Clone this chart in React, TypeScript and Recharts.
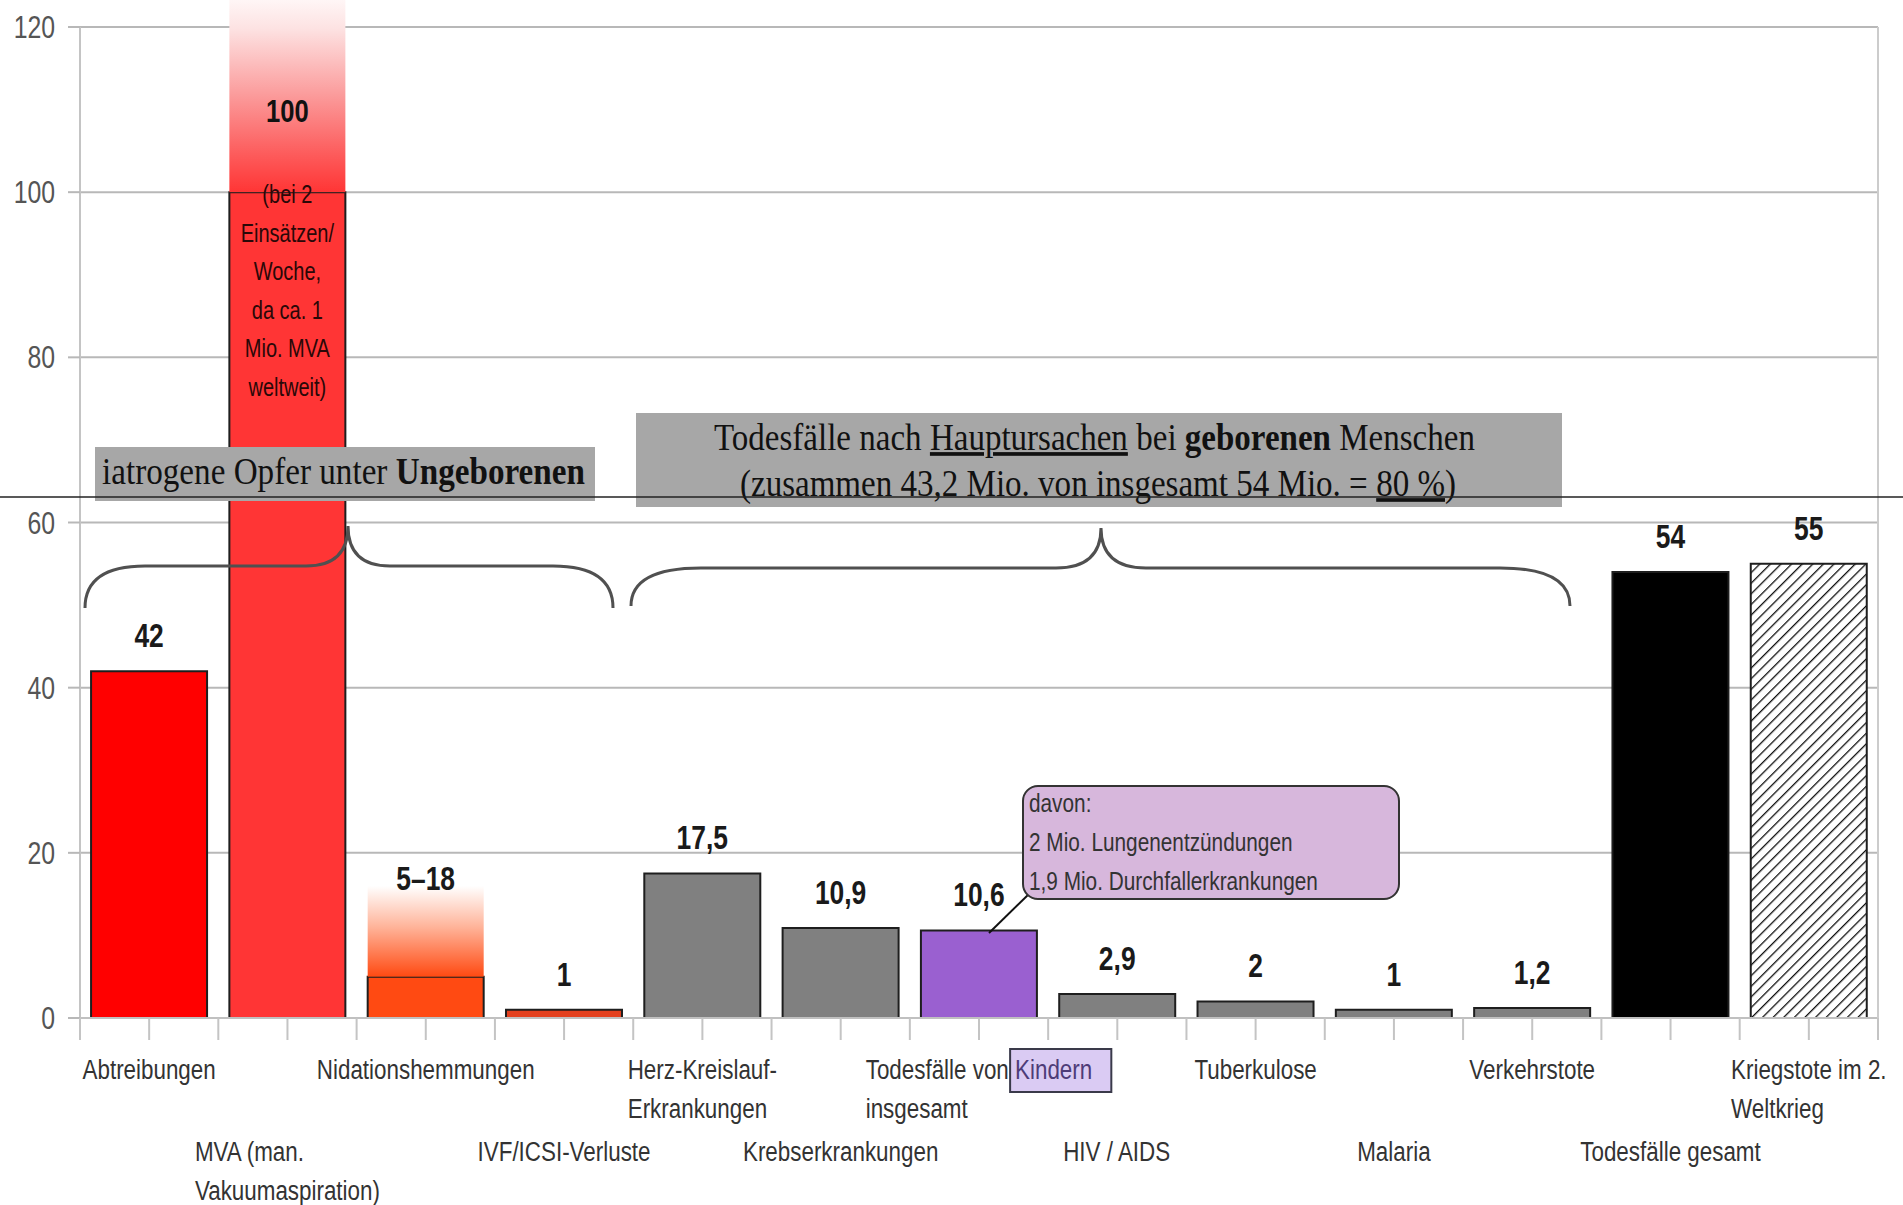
import React from 'react';
import { BarChart, Bar, XAxis, YAxis, CartesianGrid, Cell, LabelList } from 'recharts';

const categories = [
  'Abtreibungen',
  'MVA (man. Vakuumaspiration)',
  'Nidationshemmungen',
  'IVF/ICSI-Verluste',
  'Herz-Kreislauf-Erkrankungen',
  'Krebserkrankungen',
  'Todesfälle von Kindern insgesamt',
  'HIV / AIDS',
  'Tuberkulose',
  'Malaria',
  'Verkehrstote',
  'Todesfälle gesamt',
  'Kriegstote im 2. Weltkrieg',
];
const tickLines = [
  ['Abtreibungen'],
  ['MVA (man.', 'Vakuumaspiration)'],
  ['Nidationshemmungen'],
  ['IVF/ICSI-Verluste'],
  ['Herz-Kreislauf-', 'Erkrankungen'],
  ['Krebserkrankungen'],
  ['Todesfälle von Kindern', 'insgesamt'],
  ['HIV / AIDS'],
  ['Tuberkulose'],
  ['Malaria'],
  ['Verkehrstote'],
  ['Todesfälle gesamt'],
  ['Kriegstote im 2.', 'Weltkrieg'],
];
const tickHighlight = ['', '', '', '', '', '', 'Kindern', '', '', '', '', '', ''];
const values = [42, 100, 5, 1, 17.5, 10.9, 10.6, 2.9, 2, 1, 1.2, 54, 55];
const extensions = [0, 20, 11, 0, 0, 0, 0, 0, 0, 0, 0, 0, 0];
const extToChartTop = [false, true, false, false, false, false, false, false, false, false, false, false, false];
const valueLabels = ['42', '100', '5–18', '1', '17,5', '10,9', '10,6', '2,9', '2', '1', '1,2', '54', '55'];
const mvaNote = ['(bei 2', 'Einsätzen/', 'Woche,', 'da ca. 1', 'Mio. MVA', 'weltweit)'];
const calloutLines = ['davon:', '2 Mio. Lungenentzündungen', '1,9 Mio. Durchfallerkrankungen'];
const yTicks = [0, 20, 40, 60, 80, 100, 120];

const box1Segments = [
  { t: 'iatrogene Opfer unter ', bold: false, u: false },
  { t: 'Ungeborenen', bold: true, u: false },
];
const box2Line1 = [
  { t: 'Todesfälle nach ', bold: false, u: false },
  { t: 'Hauptursachen', bold: false, u: true },
  { t: ' bei ', bold: false, u: false },
  { t: 'geborenen', bold: true, u: false },
  { t: ' Menschen', bold: false, u: false },
];
const box2Line2 = [
  { t: '(zusammen 43,2 Mio. von insgesamt 54 Mio. = ', bold: false, u: false },
  { t: '80 %', bold: false, u: true },
  { t: ')', bold: false, u: false },
];

const barFills = ['#ff0000', '#ff3535', '#ff4a12', '#e3401e', '#808080', '#808080', '#9a60d0', '#808080', '#808080', '#808080', '#808080', '#000000', 'url(#hatch55)'];
const extFills = ['', 'url(#gradMVA)', 'url(#gradNid)', '', '', '', '', '', '', '', '', '', ''];

const data = categories.map((name, i) => ({
  name,
  value: values[i],
  ext: extensions[i],
  label: valueLabels[i],
}));

const SANS = "'Liberation Sans', Arial, sans-serif";
const SERIF = "'Liberation Serif', 'Times New Roman', serif";
const SX = 0.8;

let ctx: any = null;
function rawMeasure(text: string, font: string) {
  if (!ctx) {
    const c = document.createElement('canvas');
    ctx = c.getContext('2d');
  }
  ctx.font = font;
  return ctx.measureText(text).width;
}
function measure(text: string, size: number, weight = 'normal') {
  return rawMeasure(text, `${weight} ${size}px "Liberation Sans"`) * SX;
}

const NText = ({ x, y, size, weight = 'normal', anchor = 'start', fill = '#333', children }: any) => (
  <text
    transform={`translate(${x},${y}) scale(${SX},1)`}
    x={0}
    y={0}
    fontSize={size}
    fontWeight={weight}
    textAnchor={anchor}
    fill={fill}
    fontFamily={SANS}
  >
    {children}
  </text>
);

const SerifLine = ({ x, y, width, size, segs }: any) => {
  const ws = segs.map((s: any) => rawMeasure(s.t, `${s.bold ? 'bold' : 'normal'} ${size}px "Liberation Serif"`));
  const total = ws.reduce((a: number, b: number) => a + b, 0);
  const k = width / total;
  let cx = x;
  return (
    <g>
      {segs.map((s: any, i: number) => {
        const el = (
          <text
            key={i}
            transform={`translate(${cx},${y}) scale(${k},1)`}
            fontSize={size}
            fontWeight={s.bold ? 'bold' : 'normal'}
            fontFamily={SERIF}
            fill="#111"
            textDecoration={s.u ? 'underline' : undefined}
            style={{ whiteSpace: 'pre' }}
          >
            {s.t}
          </text>
        );
        cx += ws[i] * k;
        return el;
      })}
    </g>
  );
};

const CategoryTick = (props: any) => {
  const { x, y, payload } = props;
  const i = props.index ?? payload?.index ?? 0;
  const half = payload?.offset || 69.15;
  const lines = tickLines[i] || [];
  const base = y + (i % 2 === 0 ? 61 : 143);
  const fs = 28;
  const blockW = Math.max(...lines.map((l: string) => measure(l, fs)));
  const left = x - blockW / 2;
  const hl = tickHighlight[i];
  let hlRect = null;
  if (hl) {
    const first = lines[0];
    const pos = first.indexOf(hl);
    const pre = measure(first.slice(0, pos), fs);
    const w = measure(hl, fs);
    hlRect = (
      <rect x={left + pre - 5} y={base - 30} width={w + 24} height={43} fill="#dacbf3" stroke="#3a3a4a" strokeWidth={2} />
    );
  }
  return (
    <g>
      <line x1={x - half} x2={x - half} y1={y} y2={y + 22} stroke="#c4c4c4" strokeWidth={2} />
      <line x1={x} x2={x} y1={y} y2={y + 22} stroke="#c4c4c4" strokeWidth={2} />
      {i === categories.length - 1 && (
        <line x1={x + half} x2={x + half} y1={y} y2={y + 22} stroke="#c4c4c4" strokeWidth={2} />
      )}
      {hlRect}
      {lines.map((l: string, k: number) => {
        if (k === 0 && hl) {
          const pos = l.indexOf(hl);
          return (
            <text
              key={k}
              transform={`translate(${left},${base + k * 39}) scale(${SX},1)`}
              fontSize={fs}
              fill="#333"
              fontFamily={SANS}
            >
              {l.slice(0, pos)}
              <tspan fill="#4e3c78">{hl}</tspan>
              {l.slice(pos + hl.length)}
            </text>
          );
        }
        return (
          <NText key={k} x={left} y={base + k * 39} size={fs} fill="#333">
            {l}
          </NText>
        );
      })}
    </g>
  );
};

const YTick = (props: any) => {
  const { x, y, payload } = props;
  return (
    <NText x={x} y={y + 11} size={31} anchor="end" fill="#555">
      {payload.value}
    </NText>
  );
};

const ExtShape = (props: any) => {
  const { x, y, width, height } = props;
  const i = props.index ?? categories.indexOf(props.payload?.name);
  if (!height || height <= 0 || !extFills[i]) return null;
  const top = extToChartTop[i] ? 0 : y;
  return <rect x={x} y={top} width={width} height={y + height - top} fill={extFills[i]} />;
};

const ValueLabel = (props: any) => {
  const vb = props.viewBox || {};
  const x = props.x ?? vb.x;
  const y = props.y ?? vb.y;
  const width = props.width ?? vb.width;
  const height = props.height ?? vb.height;
  let i = props.index;
  if (i === undefined) i = valueLabels.indexOf(props.value);
  const cx = x + width / 2;
  const ppu = height / values[i];
  const txt = valueLabels[i];
  if (extToChartTop[i]) {
    const topY = y - extensions[i] * ppu;
    return (
      <g>
        <NText x={cx} y={topY + (extensions[i] * ppu) / 2 + 12} size={32} weight="bold" anchor="middle" fill="#111">
          {txt}
        </NText>
        {mvaNote.map((l, k) => (
          <NText key={k} x={cx} y={y + 11 + k * 38.5} size={25} anchor="middle" fill="#2a0808">
            {l}
          </NText>
        ))}
      </g>
    );
  }
  if (extensions[i] > 0) {
    const topY = y - extensions[i] * ppu;
    return (
      <NText x={cx} y={topY + 4} size={33} weight="bold" anchor="middle" fill="#1a1a1a">
        {txt}
      </NText>
    );
  }
  return (
    <NText x={cx} y={y - 24} size={33} weight="bold" anchor="middle" fill="#1a1a1a">
      {txt}
    </NText>
  );
};

function bracePath(x1: number, x2: number, xt: number, yEnd: number, yH: number, yTip: number, r: number, rt: number) {
  return [
    `M ${x1} ${yEnd}`,
    `Q ${x1} ${yH} ${x1 + r} ${yH}`,
    `L ${xt - rt} ${yH}`,
    `Q ${xt} ${yH} ${xt} ${yTip}`,
    `Q ${xt} ${yH} ${xt + rt} ${yH}`,
    `L ${x2 - r} ${yH}`,
    `Q ${x2} ${yH} ${x2} ${yEnd}`,
  ].join(' ');
}

const Overlay = () => (
  <svg width={1903} height={1205} style={{ position: 'absolute', left: 0, top: 0, pointerEvents: 'none' }}>
    <path d={bracePath(85, 613, 348, 608, 566, 526, 60, 42)} fill="none" stroke="#505050" strokeWidth={3} />
    <path d={bracePath(631, 1570, 1101, 606, 568, 528, 70, 45)} fill="none" stroke="#505050" strokeWidth={3} />

    <rect x={95} y={447} width={500} height={54} fill="#a7a7a7" />
    <SerifLine x={102} y={484} width={483} size={38} segs={box1Segments} />

    <rect x={636} y={413} width={926} height={94} fill="#a7a7a7" />
    <SerifLine x={714} y={450} width={761} size={37} segs={box2Line1} />
    <SerifLine x={740} y={496} width={716} size={37} segs={box2Line2} />

    <line x1={0} x2={1903} y1={497} y2={497} stroke="#222" strokeWidth={1.5} />

    <line x1={989} y1={933} x2={1030} y2={893} stroke="#111" strokeWidth={2} />
    <rect x={1023} y={786} width={376} height={113} rx={15} ry={15} fill="#d7b7dc" stroke="#333" strokeWidth={2} />
    {calloutLines.map((l, k) => (
      <NText key={k} x={1029} y={812 + k * 39} size={26} fill="#333">
        {l}
      </NText>
    ))}
  </svg>
);

export default function App() {
  return (
    <div style={{ position: 'absolute', left: 0, top: 0, width: 1903, height: 1205, background: '#fff' }}>
      <svg width={0} height={0} style={{ position: 'absolute' }}>
        <defs>
          <linearGradient id="gradMVA" x1="0" y1="0" x2="0" y2="1">
            <stop offset="0" stopColor="#fff6f6" />
            <stop offset="0.15" stopColor="#fde2e2" />
            <stop offset="0.5" stopColor="#fb9a9a" />
            <stop offset="0.8" stopColor="#fd5c5c" />
            <stop offset="1" stopColor="#ff3535" />
          </linearGradient>
          <linearGradient id="gradNid" x1="0" y1="0" x2="0" y2="1">
            <stop offset="0" stopColor="#ffffff" />
            <stop offset="0.45" stopColor="#ffb49a" />
            <stop offset="1" stopColor="#ff4a12" />
          </linearGradient>
          <pattern id="hatch55" patternUnits="userSpaceOnUse" width={7.5} height={7.5} patternTransform="rotate(45)">
            <rect width={7.5} height={7.5} fill="#ffffff" />
            <line x1={0} y1={0} x2={0} y2={7.5} stroke="#111" strokeWidth={2.6} />
          </pattern>
        </defs>
      </svg>
      <BarChart
        width={1903}
        height={1205}
        data={data}
        margin={{ top: 27, right: 0, left: 0, bottom: 0 }}
        barCategoryGap="8%"
      >
        <CartesianGrid vertical={false} stroke="#b8b8b8" strokeWidth={2} />
        <XAxis
          dataKey="name"
          height={187}
          interval={0}
          tickLine={false}
          tickSize={0}
          tickMargin={0}
          axisLine={{ stroke: '#c0c0c0', strokeWidth: 2 }}
          tick={<CategoryTick />}
        />
        <YAxis
          width={80}
          domain={[0, 120]}
          ticks={yTicks}
          interval={0}
          tickSize={12}
          tickMargin={13}
          tickLine={{ stroke: '#b8b8b8', strokeWidth: 2 }}
          axisLine={{ stroke: '#c4c4c4', strokeWidth: 2 }}
          tick={<YTick />}
        />
        <YAxis
          yAxisId="r"
          orientation="right"
          width={25}
          domain={[0, 120]}
          tick={false}
          tickLine={false}
          axisLine={{ stroke: '#cccccc', strokeWidth: 2 }}
        />
        <Bar dataKey="value" stackId="s" isAnimationActive={false} stroke="#1e1e1e" strokeWidth={2}>
          {data.map((d, i) => (
            <Cell key={d.name} fill={barFills[i]} />
          ))}
          <LabelList dataKey="label" content={<ValueLabel />} />
        </Bar>
        <Bar dataKey="ext" stackId="s" isAnimationActive={false} shape={<ExtShape />} />
      </BarChart>
      <Overlay />
    </div>
  );
}
